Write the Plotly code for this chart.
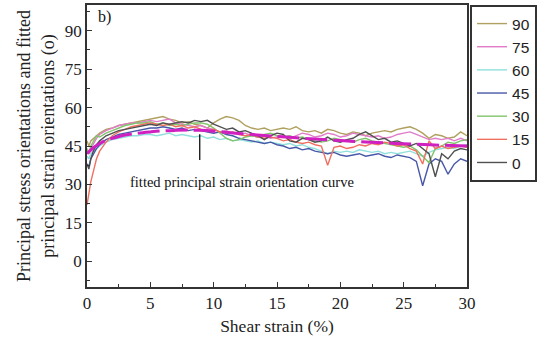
import plotly.graph_objects as go

shear = [0, 0.15, 0.3, 0.5, 0.75, 1, 1.5, 2, 2.5, 3, 3.5, 4, 4.5, 5, 5.5, 6, 6.5, 7, 7.5, 8, 8.5, 9, 9.5, 10,
         10.5, 11, 11.5, 12, 12.5, 13, 13.5, 14, 14.5, 15, 15.5, 16, 16.5, 17, 17.5, 18, 18.5, 19, 19.5, 20,
         20.5, 21, 21.5, 22, 22.5, 23, 23.5, 24, 24.5, 25, 25.5, 26, 26.5, 27, 27.5, 28, 28.5, 29, 29.5, 30]

s90 = [47, 45, 47, 48, 49, 50, 51.5, 52, 53, 53.5, 54, 54.5, 55, 55.5, 56, 56.5, 55.5, 55, 54, 54.5, 53.5, 53, 52, 54,
       55.5, 56.5, 56, 55, 53, 52, 51.5, 52, 51, 51.5, 52, 51.5, 52.5, 51, 50.5, 51, 50, 51.5, 51, 50,
       49.5, 50.5, 50, 49, 50, 50.5, 51, 50.5, 51.5, 52, 52.5, 51.5, 50, 48, 49.5, 49, 48, 48.5, 50.5, 49]
s75 = [43, 42, 44, 46, 48, 49.5, 51, 52, 53, 53.5, 54, 54, 54.5, 55, 54.5, 55, 55.5, 54, 53.5, 53, 52.5, 53, 52, 51.5,
       50.5, 51, 50, 49.5, 50, 49, 48.5, 49, 48, 48.5, 49, 48, 49, 50, 49.5, 48.5, 49, 50, 49.5, 48.5,
       49, 50, 49.5, 49, 48.5, 49, 48, 48.5, 49.5, 50, 50.5, 49.5, 48.5, 47.5, 48, 47.5, 48, 47, 48, 47]
s60 = [41, 40, 42, 43, 44, 45, 46.5, 47.5, 48, 48.5, 49, 49, 49.5, 49.5, 49, 49.5, 50, 49, 49.5, 49, 48.5, 49, 48, 48.5,
       47.5, 48, 47, 47.5, 47, 46.5, 47, 46, 46.5, 46, 45.5, 46, 45, 45.5, 44.5, 44, 43, 42, 43, 42.5,
       43, 42.5, 43.5, 43, 42.5, 43, 42, 42.5, 42, 42.5, 43, 42, 41, 42.5, 43.5, 44, 44.5, 44, 45, 45.5]
s45 = [38, 37, 40, 42, 44, 45.5, 47.5, 48.5, 49.5, 50, 50.5, 51, 51.5, 52, 52, 52.5, 52, 51.5, 52, 51, 51.5, 51, 50.5, 50,
       50.5, 49.5, 49, 48, 47.5, 47, 46.5, 46, 46.5, 45.5, 45, 44, 44.5, 43.5, 44, 43, 42.5, 42, 42.5, 41.5,
       41, 41.5, 42, 41, 41.5, 42, 41, 40.5, 41.5, 41, 40.5, 39, 29.5, 38, 40, 39, 34, 38, 40, 39]
s30 = [44, 42, 45, 47, 49, 48.5, 50, 51, 52, 53, 53.5, 54, 54, 54.5, 53.5, 54, 53, 53.5, 53, 53.5, 54, 54, 53.5, 52,
       50, 48, 47, 47.5, 48.5, 49, 48.5, 49.5, 50, 49, 48.5, 49, 48, 48.5, 47.5, 47, 46.5, 47, 48, 47.5,
       47, 46.5, 47.5, 48, 47, 46.5, 46, 45.5, 45, 44.5, 45, 43.5, 41, 38.5, 44, 45, 46.5, 46, 47, 47.5]
s15 = [22, 27, 31, 35, 40, 43, 46.5, 49, 50.5, 51.5, 52.5, 53, 53.5, 54, 53.5, 53, 53.5, 52.5, 53, 52, 52.5, 51.5, 51, 51.5,
       50.5, 50, 50.5, 49.5, 49, 49.5, 48.5, 48, 48.5, 48, 47, 47.5, 46.5, 46, 46.5, 45.5, 45, 37.5, 44.5, 45,
       44, 44.5, 45.5, 45, 46, 45.5, 46.5, 46, 45, 45.5, 44, 43, 38, 47, 44, 45, 44, 44.5, 45, 44.5]
s0 = [38, 36, 40, 43, 45.5, 47, 49, 50, 51, 51.5, 52, 52.5, 53, 53.5, 53, 54, 53.5, 54, 54.5, 54, 55, 54.5, 55, 53.5,
      52.5, 51.5, 52, 50.5, 51, 50, 49, 47.5, 49, 50, 49.5, 47, 46.5, 48, 47.5, 46.5, 47, 48.5, 47, 46.5,
      47.5, 48, 49.5, 50.5, 49, 47.5, 48, 46.5, 47, 46, 45, 46, 44, 42, 33, 42, 40, 43, 44, 43.5]

fit_x = [0, 0.5, 1, 1.5, 2, 3, 4, 5, 6, 7, 8, 9, 10, 12, 14, 16, 18, 20, 22, 24, 26, 28, 30]
fit_y = [42, 44.3, 46, 47.2, 48, 49.3, 50, 50.5, 50.9, 51.1, 51.2, 51.1, 50.8, 49.9, 49.1, 48.4, 47.7, 47.1, 46.6, 46.1, 45.7, 45.3, 45]

series_names = ["90", "75", "60", "45", "30", "15", "0"]
series_vals = [s90, s75, s60, s45, s30, s15, s0]
colors = ["#b0a060", "#e07cc8", "#90e0dc", "#4858a8", "#80c46c", "#f07060", "#505050"]

fig = go.Figure()
for name, vals, c in zip(series_names, series_vals, colors):
    fig.add_trace(go.Scatter(x=shear, y=vals, mode="lines", name=name,
                             line=dict(color=c, width=1.4)))
fig.add_trace(go.Scatter(x=fit_x, y=fit_y, mode="lines", showlegend=False,
                         line=dict(color="#d020c0", width=3, dash="22px,6px", shape="spline")))

serif = "Liberation Serif"
axis_common = dict(showline=True, linecolor="#333", linewidth=1.5, mirror=True,
                   ticks="inside", ticklen=5, tickcolor="#333", showgrid=False, zeroline=False,
                   tickfont=dict(family=serif, size=17, color="#222"))
fig.update_xaxes(range=[0, 30], tickvals=[0, 5, 10, 15, 20, 25, 30],
                 minor=dict(ticks="inside", ticklen=3, dtick=2.5, tick0=0, tickcolor="#333"),
                 title=dict(text="Shear strain (%)", font=dict(family=serif, size=17.5, color="#222"), standoff=8),
                 **axis_common)
fig.update_yaxes(range=[-10, 100], tickvals=[0, 15, 30, 45, 60, 75, 90],
                 minor=dict(ticks="inside", ticklen=3, dtick=7.5, tick0=0, tickcolor="#333"),
                 title=dict(text="Principal stress orientations and fitted<br>principal strain orientations (o)",
                            font=dict(family=serif, size=18, color="#222"), standoff=6),
                 **axis_common)

fig.add_annotation(x=12.2, y=30.8, text="fitted principal strain orientation curve", showarrow=False,
                   font=dict(family=serif, size=14.5, color="#111"))
fig.add_annotation(x=1.35, y=95.4, text="b)", showarrow=False,
                   font=dict(family=serif, size=16, color="#111"))
fig.add_shape(type="line", x0=8.9, x1=8.9, y0=49.6, y1=39.5, line=dict(color="#111", width=1.3))

fig.update_layout(width=543, height=345, margin=dict(l=87, r=76, t=3, b=58),
                  plot_bgcolor="white", paper_bgcolor="white",
                  legend=dict(x=1.008, y=1, xanchor="left", yanchor="top",
                              bordercolor="#333", borderwidth=2, bgcolor="white",
                              font=dict(family="Liberation Sans", size=15.5, color="#222"),
                              itemwidth=30, tracegroupgap=0))
fig.write_html("out.html")
